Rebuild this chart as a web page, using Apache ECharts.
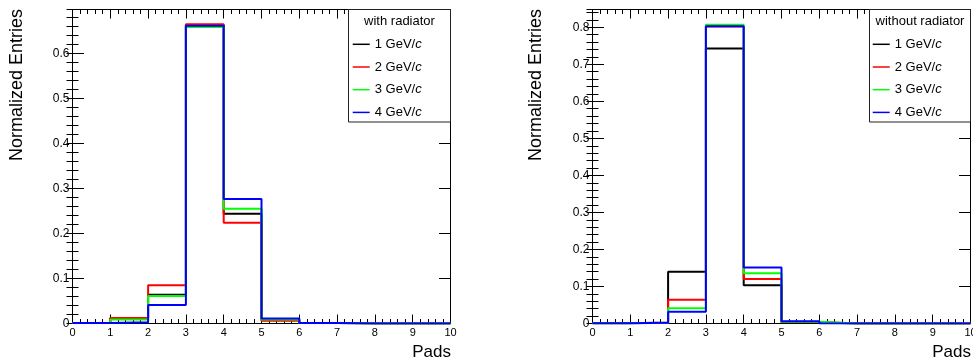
<!DOCTYPE html>
<html><head><meta charset="utf-8">
<script src="https://cdn.jsdelivr.net/npm/echarts@6/dist/echarts.min.js"></script>
<style>html,body{margin:0;padding:0;background:#fff}#c{width:973px;height:361px}</style>
</head><body><div id="c"></div>
<script>
// ---- data ----
const binEdges = [0, 1, 2, 3, 4, 5, 6, 7, 8, 9, 10];
const seriesNames = ['1 GeV/c', '2 GeV/c', '3 GeV/c', '4 GeV/c'];
const seriesColors = ['#000000', '#ff0000', '#00ff00', '#0000ff'];
// with radiator (left panel), one value per bin
const withRad1 = [0.001, 0.012, 0.064, 0.663, 0.244, 0.008, 0.001, 0, 0, 0];
const withRad2 = [0.001, 0.0125, 0.085, 0.665, 0.224, 0.006, 0.001, 0, 0, 0];
const withRad3 = [0.001, 0.009, 0.061, 0.659, 0.255, 0.009, 0.001, 0, 0, 0];
const withRad4 = [0.001, 0.003, 0.041, 0.662, 0.277, 0.011, 0.001, 0, 0, 0];
// without radiator (right panel)
const withoutRad1 = [0.001, 0.003, 0.140, 0.743, 0.103, 0.003, 0, 0, 0, 0];
const withoutRad2 = [0.001, 0.002, 0.064, 0.802, 0.120, 0.004, 0, 0, 0, 0];
const withoutRad3 = [0.001, 0.002, 0.041, 0.807, 0.136, 0.005, 0, 0, 0, 0];
const withoutRad4 = [0.001, 0.002, 0.032, 0.803, 0.151, 0.006, 0, 0, 0, 0];
const panelTitles = ['with radiator', 'without radiator'];
const yTitle = 'Normalized Entries';
const xTitle = 'Pads';
const yMaxLeft = 0.698;
const yMaxRight = 0.848;

// ---- build ----
const FONT = '"Liberation Sans", Arial, Helvetica, sans-serif';
const grids = [
  {left: 72.5, right: 522.5, top: 9.5, bottom: 37.5, containLabel: false, outerBoundsMode: 'none'},
  {left: 592.5, right: 2.5, top: 9.5, bottom: 37.5, containLabel: false, outerBoundsMode: 'none'}
];
const xAxis = [], yAxis = [];
function addAxes(g, ymax) {
  ['bottom', 'top'].forEach((pos, k) => {
    xAxis.push({
      gridIndex: g, type: 'value', min: 0, max: 10, interval: 1, position: pos,
      axisLine: {show: true, onZero: false, lineStyle: {color: '#000', width: 1}},
      axisTick: {show: true, inside: true, length: 9, lineStyle: {color: '#000', width: 1}},
      minorTick: {show: true, splitNumber: 5, length: 4.5, lineStyle: {color: '#000', width: 1}},
      axisLabel: {show: k === 0, fontSize: 11, margin: 4, color: '#000', fontFamily: FONT, hideOverlap: false},
      splitLine: {show: false}, minorSplitLine: {show: false}
    });
  });
  ['left', 'right'].forEach((pos, k) => {
    yAxis.push({
      gridIndex: g, type: 'value', min: 0, max: ymax, interval: 0.1, position: pos,
      axisLine: {show: true, onZero: false, lineStyle: {color: '#000', width: 1}},
      axisTick: {show: true, inside: true, length: 11.5, lineStyle: {color: '#000', width: 1}},
      axisLabel: {show: k === 0, fontSize: 12, margin: 3, color: '#000', fontFamily: FONT, showMaxLabel: false},
      splitLine: {show: false}
    });
    yAxis.push({
      gridIndex: g, type: 'value', min: 0, max: ymax, interval: 0.02, position: pos,
      axisLine: {show: false},
      axisTick: {show: true, inside: true, length: 6, lineStyle: {color: '#000', width: 1}},
      axisLabel: {show: false},
      splitLine: {show: false}
    });
  });
}
addAxes(0, yMaxLeft);
addAxes(1, yMaxRight);

function stepData(vals) {
  const d = vals.map((v, i) => [binEdges[i], v]);
  d.push([binEdges[binEdges.length - 1], vals[vals.length - 1]]);
  return d;
}
const panels = [[withRad1, withRad2, withRad3, withRad4], [withoutRad1, withoutRad2, withoutRad3, withoutRad4]];
const series = [];
panels.forEach((arrs, g) => {
  arrs.forEach((vals, i) => {
    series.push({
      name: seriesNames[i], type: 'line', step: 'end', symbol: 'none',
      xAxisIndex: g * 2, yAxisIndex: g * 4,
      color: seriesColors[i],
      lineStyle: {color: seriesColors[i], width: 2},
      data: stepData(vals), z: 2 + i
    });
  });
});

const rich = {
  n: {fontSize: 13, fontFamily: FONT, color: '#000'},
  i: {fontSize: 13, fontFamily: FONT, color: '#000', fontStyle: 'italic'}
};
function legendFor(left) {
  return {
    data: seriesNames, orient: 'vertical', left: left, top: 37.8, padding: 0,
    itemGap: 9.7, itemWidth: 17, itemHeight: 1.5, icon: 'rect', selectedMode: false, z: 60,
    formatter: name => '{n|' + name.slice(0, -1) + '}{i|c}',
    textStyle: {rich: rich}
  };
}
const boxes = [{x: 348.5, w: 102}, {x: 869.5, w: 101}];
const graphic = [];
boxes.forEach((b, g) => {
  graphic.push({type: 'rect', z: 50, shape: {x: b.x, y: 9.5, width: b.w, height: 112.5},
    style: {fill: '#fff', stroke: '#222', lineWidth: 1}});
  graphic.push({type: 'text', z: 60, x: b.x + b.w / 2, y: 21,
    style: {text: panelTitles[g], font: '13px ' + FONT, fill: '#000', align: 'center', verticalAlign: 'middle'}});
});
[17, 536.3].forEach(x => {
  graphic.push({type: 'text', z: 60, x: x, y: 9, rotation: Math.PI / 2,
    style: {text: yTitle, font: '18px ' + FONT, fill: '#000', align: 'right', verticalAlign: 'middle'}});
});
[451, 971].forEach(x => {
  graphic.push({type: 'text', z: 60, x: x, y: 352,
    style: {text: xTitle, font: '17px ' + FONT, fill: '#000', align: 'right', verticalAlign: 'middle'}});
});

const chart = echarts.init(document.getElementById('c'), null, {renderer: 'canvas'});
chart.setOption({
  animation: false,
  backgroundColor: '#fff',
  grid: grids,
  xAxis: xAxis,
  yAxis: yAxis,
  legend: [legendFor(352.7), legendFor(872.7)],
  graphic: graphic,
  series: series
});
</script></body></html>
